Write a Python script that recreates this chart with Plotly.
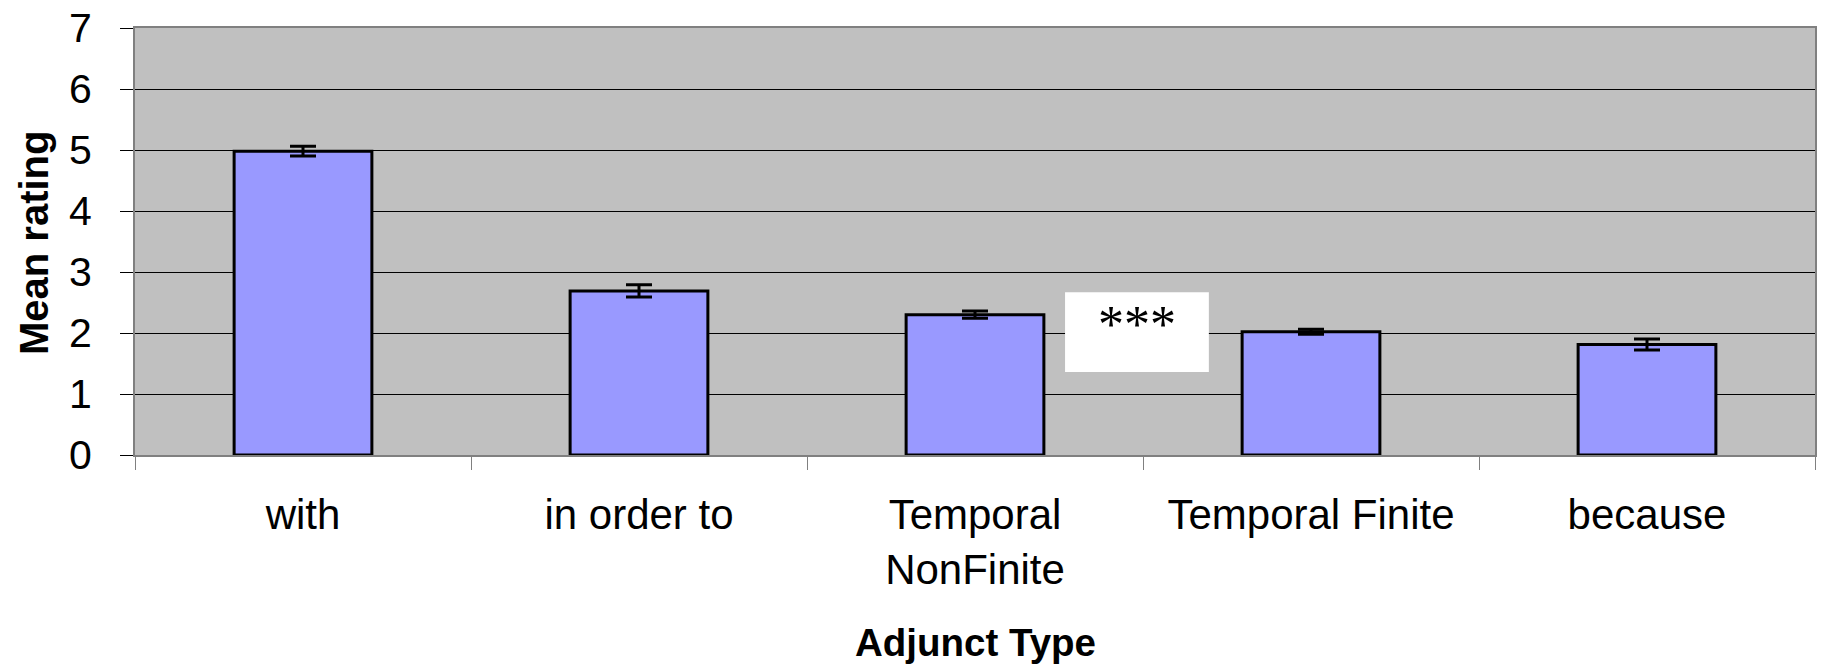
import plotly.graph_objects as go

categories = ["with", "in order to", "Temporal<br>NonFinite", "Temporal Finite", "because"]
mean_rating = [4.98, 2.69, 2.30, 2.02, 1.81]
error = [0.08, 0.10, 0.06, 0.04, 0.09]
y_ticks = [0, 1, 2, 3, 4, 5, 6, 7]

FONT = "Arial, Liberation Sans, sans-serif"

fig = go.Figure()
fig.add_trace(go.Bar(
    x=categories, y=mean_rating,
    marker=dict(color="#9999FF", line=dict(color="black", width=3)),
    error_y=dict(type="data", array=error, visible=True, color="black", thickness=3, width=13),
))

fig.update_layout(
    width=1828, height=665,
    margin=dict(l=135, r=13, t=28, b=210),
    paper_bgcolor="white", plot_bgcolor="#C0C0C0",
    bargap=0.59, showlegend=False,
    font=dict(family=FONT, color="black"),
)
fig.update_xaxes(
    type="category", tickson="boundaries", ticks="outside", ticklen=13, tickcolor="#808080",
    tickwidth=1, showgrid=False, showline=True, linecolor="#808080", linewidth=2, mirror=True,
    tickfont=dict(size=42, family=FONT, color="black"), ticklabelstandoff=22, automargin=False,
    ticklabeloverflow="allow",
)
fig.update_yaxes(
    range=[0, 7], tickvals=y_ticks, ticks="outside", ticklen=13, tickcolor="black", tickwidth=1,
    showgrid=True, gridcolor="black", gridwidth=1, zeroline=False,
    showline=True, linecolor="#808080", linewidth=2, mirror=True,
    tickfont=dict(size=41, family=FONT, color="black"), ticklabelstandoff=20, automargin=False,
    ticklabeloverflow="allow",
)

# significance box
fig.add_shape(type="rect", xref="x", yref="y", x0=2.268, x1=2.696, y0=1.36, y1=2.67,
              fillcolor="white", line=dict(width=0), layer="above")
fig.add_annotation(x=2.482, y=2.14, xref="x", yref="y", text="***", showarrow=False,
                   font=dict(family="Times New Roman, Liberation Serif, serif", size=52, color="black"),
                   xanchor="center", yanchor="middle")

# axis titles
fig.add_annotation(x=-0.0601, y=0.4965, xref="paper", yref="paper", text="<b>Mean rating</b>",
                   textangle=-90, showarrow=False, font=dict(size=40, family=FONT, color="black"),
                   xanchor="center", yanchor="middle")
fig.add_annotation(x=0.5, y=-0.438, xref="paper", yref="paper", text="<b>Adjunct Type</b>",
                   showarrow=False, font=dict(size=38.5, family=FONT, color="black"),
                   xanchor="center", yanchor="middle")

# remove the default page margin so the figure fills the window exactly
fig.write_html("out.html", config={"displayModeBar": False},
               post_script="document.body.style.margin='0';document.body.style.overflow='hidden';")
